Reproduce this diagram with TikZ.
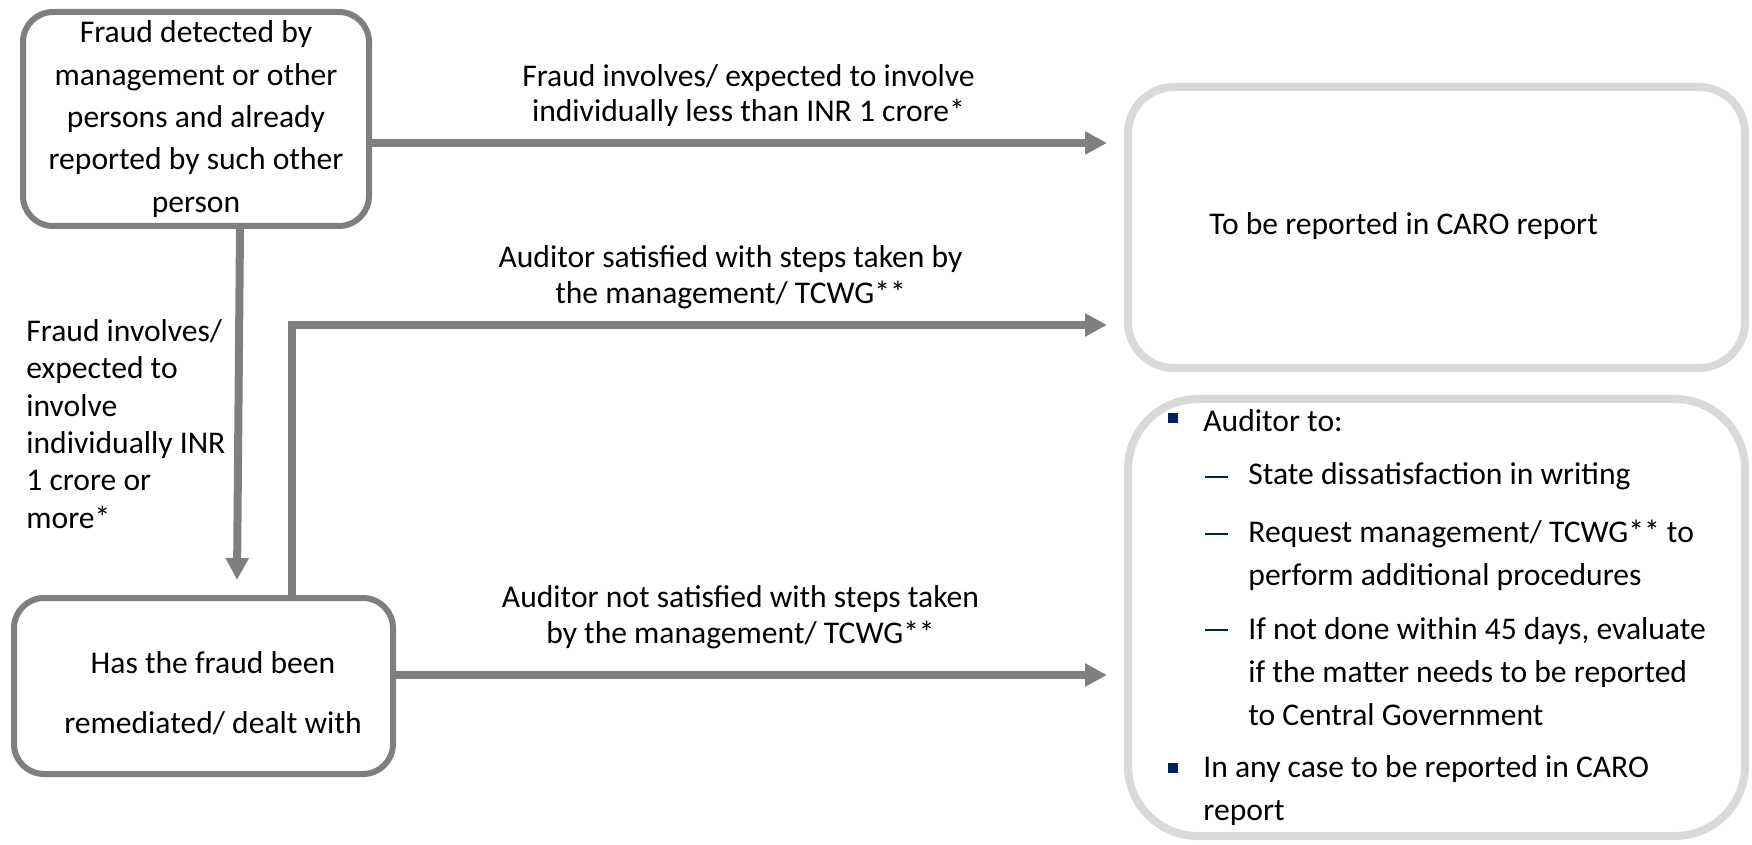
\documentclass[tikz,border=0pt]{standalone}
\usepackage{fontspec}
\setmainfont{Carlito}
\usetikzlibrary{arrows.meta}
\definecolor{linegray}{HTML}{7F7F7F}
\definecolor{palegray}{HTML}{D9D9D9}
\definecolor{navy}{HTML}{002060}
\tikzset{
  txt/.style={inner sep=0pt, text=black, font=\fontsize{15.8}{#1}\selectfont},
  txt/.default=21,
  decision/.style={draw=linegray, line width=3pt, rounded corners=15pt, fill=white,
    inner sep=0pt, align=center, font=\fontsize{15.8}{21.2}\selectfont},
  outcome/.style={draw=palegray, line width=4pt, fill=white, inner sep=0pt},
  flow/.style={draw=linegray, line width=4pt, -{Triangle[length=11pt,width=11pt]}},
  bulletsq/.style={fill=navy, minimum size=5pt, inner sep=0pt},
  subdash/.style={draw=navy, line width=1pt},
}
\begin{document}
\begin{tikzpicture}[x=0.5pt,y=-0.5pt]
\useasboundingbox (0,0) rectangle (1752,845);

% decision boxes
\node[decision, minimum width=173pt, minimum height=107pt] (q1) at (196,119)
  {Fraud detected by\\management or other\\persons and already\\reported by such other\\person};
\node[decision, minimum width=189.5pt, minimum height=88pt] (q2) at (203.5,686) {};
\node[txt=30, align=center] (q2text) at (213,693) {Has the fraud been\\remediated/ dealt with};

% outcome boxes
\node[outcome, rounded corners=23pt, minimum width=308.5pt, minimum height=140.5pt] (r1) at (1436.5,227.5) {};
\node[outcome, rounded corners=35pt, minimum width=308.5pt, minimum height=218.5pt] (r2) at (1436.5,617.5) {};

\node[txt, anchor=west] (r1text) at (1209,226) {To be reported in CARO report};

% list in the lower outcome box
\node[bulletsq] (bul1) at (1173,418) {};
\node[txt, anchor=west] (item1) at (1203,421) {Auditor to:};
\draw[subdash] (1205,477) -- (1228,477);
\node[txt, anchor=west] (sub1) at (1248,476) {State dissatisfaction in writing};
\draw[subdash] (1205,534) -- (1228,534);
\node[txt=21.5, anchor=west, align=left] (sub2) at (1248,555)
  {Request management/ TCWG** to\\perform additional procedures};
\draw[subdash] (1205,630) -- (1228,630);
\node[txt=21.5, anchor=west, align=left] (sub3) at (1248,671.5)
  {If not done within 45 days, evaluate\\if the matter needs to be reported\\to Central Government};
\node[bulletsq] (bul2) at (1173,768) {};
\node[txt=21.5, anchor=west, align=left] (item2) at (1203,791)
  {In any case to be reported in CARO\\report};

% connectors
\coordinate (t1) at (1107,143);
\coordinate (k2) at (292,325);
\coordinate (t2) at (1107,325);
\coordinate (t3) at (237,580);
\coordinate (t4) at (1107,675);

\draw[flow] (t1 -| q1.east) -- (t1);
\draw[flow] (k2 |- q2.north) -- (k2) -- (t2);
\draw[flow] ([xshift=22pt]q1.south) -- (t3);
\draw[flow] (t4 -| q2.east) -- (t4);

% connector labels
\node[txt=17.5, align=center] (lab1) at (748.5,95.5)
  {Fraud involves/ expected to involve\\individually less than INR 1 crore*};
\node[txt=18, align=center] (lab2) at (730.5,277)
  {Auditor satisfied with steps taken by\\the management/ TCWG**};
\node[txt=18, align=center] (lab3) at (740.5,617)
  {Auditor not satisfied with steps taken\\by the management/ TCWG**};
\node[txt=18.65, anchor=west, align=left] (lab4) at (26,424)
  {Fraud involves/\\expected to\\involve\\individually INR\\1 crore or\\more*};
\end{tikzpicture}
\end{document}
